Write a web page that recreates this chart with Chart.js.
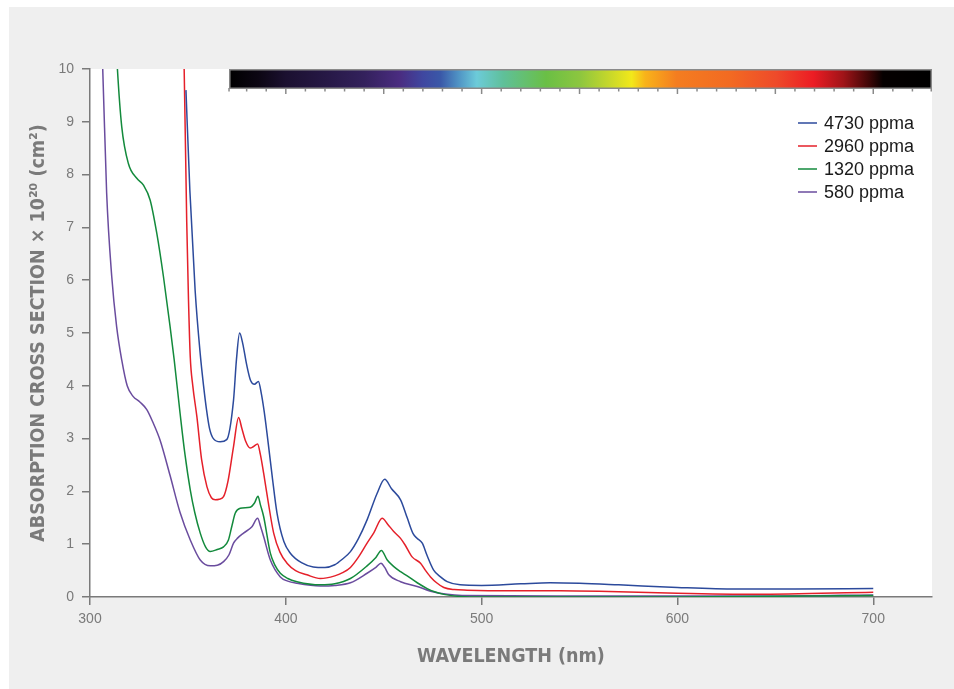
<!DOCTYPE html>
<html>
<head>
<meta charset="utf-8">
<title>Absorption cross section</title>
<script src="https://cdn.jsdelivr.net/npm/chart.js@4"></script>
<style>
  body { margin: 0; background: #ffffff; }
  #chart { display: block; }
</style>
</head>
<body>
<canvas id="chart" width="954" height="689"></canvas>
<script>
// wavelength (nm) / absorption cross section x 1e20 (cm2)
const wl4730 = [349, 351, 353.7, 356.3, 358, 359.5, 361, 363, 366.5, 369.8, 373.3, 374.8, 376.4, 378, 380, 382, 384, 386, 387.5, 389, 390.4, 393, 395.5, 399, 402.3, 408, 414, 420, 425, 429, 433, 437, 441.5, 446.6, 450.5, 454, 458.6, 462, 465, 467.1, 469.7, 472, 475.5, 479, 482.4, 489, 500, 520, 535, 550, 570, 600, 630, 660, 700];
const abs4730 = [9.6, 7.7, 5.8, 4.6, 4.0, 3.55, 3.2, 3.0, 2.94, 2.98, 3.73, 4.5, 5.0, 4.8, 4.4, 4.1, 4.03, 4.08, 3.85, 3.5, 3.1, 2.3, 1.59, 1.05, 0.83, 0.65, 0.57, 0.56, 0.61, 0.72, 0.86, 1.1, 1.46, 1.96, 2.23, 2.05, 1.84, 1.5, 1.2, 1.11, 1.02, 0.8, 0.51, 0.38, 0.29, 0.23, 0.22, 0.25, 0.27, 0.26, 0.23, 0.18, 0.15, 0.15, 0.16];

const wl2960 = [347, 348.1, 349.4, 350.3, 351.2, 352.5, 354.6, 357, 359.7, 362, 364, 366, 368.2, 370.5, 373.3, 375.9, 377.5, 379.5, 381.8, 383.5, 385.6, 387, 388.7, 391, 393.8, 397, 400.6, 405, 410.8, 417.6, 425, 429, 433, 437, 441.5, 445, 449.2, 452, 455.1, 458.6, 461, 464.5, 468.8, 471, 473.9, 477, 480.7, 486, 492.6, 515, 540, 560, 600, 640, 700];
const abs2960 = [11.5, 9.98, 7.1, 5.63, 4.55, 4.0, 3.41, 2.6, 2.09, 1.88, 1.84, 1.85, 1.9, 2.2, 2.85, 3.4, 3.2, 2.95, 2.82, 2.85, 2.9, 2.7, 2.34, 1.8, 1.21, 0.85, 0.64, 0.5, 0.42, 0.35, 0.4, 0.46, 0.56, 0.75, 1.02, 1.22, 1.49, 1.38, 1.24, 1.11, 0.98, 0.76, 0.64, 0.52, 0.38, 0.27, 0.18, 0.14, 0.13, 0.12, 0.12, 0.11, 0.07, 0.05, 0.09];

const wl1320 = [312, 314, 316.2, 319.6, 323.9, 327.3, 330.7, 334.1, 337.5, 340.9, 343, 346, 348.5, 351.2, 353.5, 356.3, 359, 361.4, 365, 368.2, 370.7, 372.5, 374.2, 376.7, 381.8, 384, 385.8, 387, 388.7, 392.1, 394.5, 397.2, 401, 405.7, 417.6, 425, 433, 441.5, 446, 448.8, 451.8, 455, 458.6, 462, 467.1, 472.2, 476, 480.7, 489, 500, 600, 700];
const abs1320 = [11.5, 10, 8.91, 8.21, 7.93, 7.8, 7.52, 6.89, 6.07, 5.12, 4.49, 3.48, 2.7, 2.03, 1.6, 1.21, 0.95, 0.86, 0.9, 0.95, 1.08, 1.35, 1.59, 1.68, 1.7, 1.78, 1.91, 1.75, 1.52, 0.83, 0.6, 0.45, 0.35, 0.29, 0.23, 0.25, 0.35, 0.59, 0.75, 0.88, 0.7, 0.58, 0.48, 0.4, 0.27, 0.16, 0.1, 0.05, 0.01, 0.0, 0.0, 0.03];

const wl580 = [304, 306.5, 308.5, 311.1, 313.6, 316.2, 319, 322, 325.6, 329, 332, 335.8, 340.9, 346, 351.2, 356.3, 361.4, 365, 368.2, 371, 373.3, 375.5, 378.4, 382.7, 385.6, 387, 388.7, 392.1, 397.2, 401, 405.7, 417.6, 425, 433, 441.5, 446, 448.6, 450.5, 452.6, 458.6, 467.1, 473.9, 482.4, 490, 550, 650, 700];
const abs580 = [12, 10, 7.65, 6.07, 5.12, 4.49, 4.0, 3.8, 3.69, 3.55, 3.32, 2.97, 2.3, 1.6, 1.08, 0.7, 0.59, 0.6, 0.67, 0.8, 1.02, 1.12, 1.21, 1.33, 1.49, 1.35, 1.14, 0.7, 0.38, 0.3, 0.26, 0.21, 0.22, 0.27, 0.45, 0.56, 0.64, 0.56, 0.42, 0.29, 0.2, 0.11, 0.05, 0.03, 0.02, 0.02, 0.04];

const seriesLabels = ['4730 ppma', '2960 ppma', '1320 ppma', '580 ppma'];
const seriesColors = ['#2c4a9c', '#e5202a', '#138a3c', '#6a4c9e'];
const xTicks = [300, 400, 500, 600, 700];

// visible spectrum strip along the top (wavelength -> colour)
const spectrumWl = [371, 386, 400, 420, 440, 458, 470, 479, 488, 497.5, 511, 533, 550, 565.6, 576.6, 583.5, 599.6, 627, 650.7, 669.4, 684.7, 698.4, 705, 730];
const spectrumColors = ['#000000', '#0c0613', '#1b1030', '#261845', '#33215c', '#4a2c80', '#3f47a0', '#3a58a8', '#4f92c4', '#6ccbd9', '#5fc09a', '#6abf45', '#8cc63f', '#c8d82a', '#f2e81a', '#f8b31a', '#f47d20', '#f26a22', '#ee4a2a', '#ec1c24', '#a01418', '#3a0606', '#050000', '#000000'];

const toXY = (xs, ys) => xs.map((x, i) => ({ x: x, y: ys[i] }));
const seriesData = [toXY(wl4730, abs4730), toXY(wl2960, abs2960), toXY(wl1320, abs1320), toXY(wl580, abs580)];

const axisGrey = '#7a7a7a';
const titleFont = "'DejaVu Sans Condensed', 'Liberation Sans Narrow', 'DejaVu Sans', sans-serif";

const backgroundPlugin = {
  id: 'background',
  beforeDraw(chart) {
    const ctx = chart.ctx;
    const a = chart.chartArea;
    ctx.save();
    ctx.fillStyle = '#ffffff';
    ctx.fillRect(0, 0, chart.width, chart.height);
    ctx.fillStyle = '#efefef';
    ctx.fillRect(9, 7, chart.width - 9, chart.height - 7);
    ctx.fillStyle = '#ffffff';
    ctx.fillRect(a.left, a.top, a.right - a.left, a.bottom - a.top);
    ctx.restore();
  }
};

const spectrumPlugin = {
  id: 'spectrum',
  afterDatasetsDraw(chart) {
    const ctx = chart.ctx;
    const xs = chart.scales.x;
    const a = chart.chartArea;
    const x0 = xs.getPixelForValue(spectrumWl[0]);
    const x1 = xs.getPixelForValue(spectrumWl[spectrumWl.length - 1]);
    const top = a.top, h = 19;
    const grad = ctx.createLinearGradient(x0, 0, x1, 0);
    spectrumWl.forEach((w, i) => {
      grad.addColorStop((xs.getPixelForValue(w) - x0) / (x1 - x0), spectrumColors[i]);
    });
    ctx.save();
    ctx.fillStyle = grad;
    ctx.fillRect(x0, top, x1 - x0, h);
    ctx.strokeStyle = '#8a8a8a';
    ctx.lineWidth = 1.5;
    ctx.strokeRect(x0 + 0.75, top + 0.75, x1 - x0 - 1.5, h - 0.5);
    // small ticks under the strip
    const ticks = [spectrumWl[0]];
    for (let w = 380; w <= 730; w += 10) ticks.push(w);
    ticks.forEach(w => {
      const px = Math.min(xs.getPixelForValue(w), x1 - 0.75);
      const len = (w % 50 === 0) ? 6 : 3.5;
      ctx.beginPath();
      ctx.moveTo(px, top + h);
      ctx.lineTo(px, top + h + len);
      ctx.stroke();
    });
    ctx.restore();
  }
};

// legend drawn inside the plot, top right
const legendPlugin = {
  id: 'insideLegend',
  afterDraw(chart) {
    const ctx = chart.ctx;
    const a = chart.chartArea;
    const lx = a.right - 134;
    let ly = a.top + 54;
    ctx.save();
    ctx.font = "18px 'Liberation Sans', Arial, sans-serif";
    ctx.textBaseline = 'middle';
    chart.data.datasets.forEach(ds => {
      ctx.strokeStyle = ds.borderColor;
      ctx.lineWidth = 1.5;
      ctx.beginPath();
      ctx.moveTo(lx, ly);
      ctx.lineTo(lx + 19, ly);
      ctx.stroke();
      ctx.fillStyle = '#1a1a1a';
      ctx.fillText(ds.label, lx + 26, ly + 1);
      ly += 23;
    });
    ctx.restore();
  }
};

const chart = new Chart(document.getElementById('chart').getContext('2d'), {
  type: 'line',
  data: {
    datasets: seriesData.map((d, i) => ({
      label: seriesLabels[i],
      data: d,
      borderColor: seriesColors[i],
      backgroundColor: seriesColors[i],
      borderWidth: 1.5,
      pointRadius: 0,
      fill: false,
      cubicInterpolationMode: 'monotone'
    }))
  },
  options: {
    responsive: false,
    animation: false,
    devicePixelRatio: 1,
    layout: { padding: { top: 69, right: 22, left: 0, bottom: 0 } },
    plugins: {
      legend: { display: false },
      tooltip: { enabled: false }
    },
    scales: {
      x: {
        type: 'linear',
        min: 300,
        max: 730,
        afterBuildTicks: (scale) => { scale.ticks = xTicks.map(v => ({ value: v })); },
        afterFit: (scale) => { scale.height = 92; },
        grid: { drawOnChartArea: false, tickLength: 8, color: axisGrey, lineWidth: 1.5 },
        border: { color: axisGrey, width: 1.5 },
        ticks: { color: axisGrey, padding: 6, font: { family: "'Liberation Sans', Arial, sans-serif", size: 14 }, maxRotation: 0 },
        title: {
          display: true,
          text: 'WAVELENGTH (nm)',
          color: axisGrey,
          font: { family: titleFont, size: 19.5, weight: 'bold' },
          padding: { bottom: 20 }
        }
      },
      y: {
        min: 0,
        max: 10,
        ticks: { stepSize: 1, color: axisGrey, padding: 8, font: { family: "'Liberation Sans', Arial, sans-serif", size: 14 } },
        afterFit: (scale) => { scale.width = 90; },
        grid: { drawOnChartArea: false, tickLength: 8, color: axisGrey, lineWidth: 1.5 },
        border: { color: axisGrey, width: 1.5 },
        title: {
          display: true,
          text: 'ABSORPTION CROSS SECTION \u00d7 10\u00b2\u2070 (cm\u00b2)',
          color: axisGrey,
          font: { family: titleFont, size: 19.5, weight: 'bold' },
          padding: { top: 27 }
        }
      }
    }
  },
  plugins: [backgroundPlugin, spectrumPlugin, legendPlugin]
});
</script>
</body>
</html>
